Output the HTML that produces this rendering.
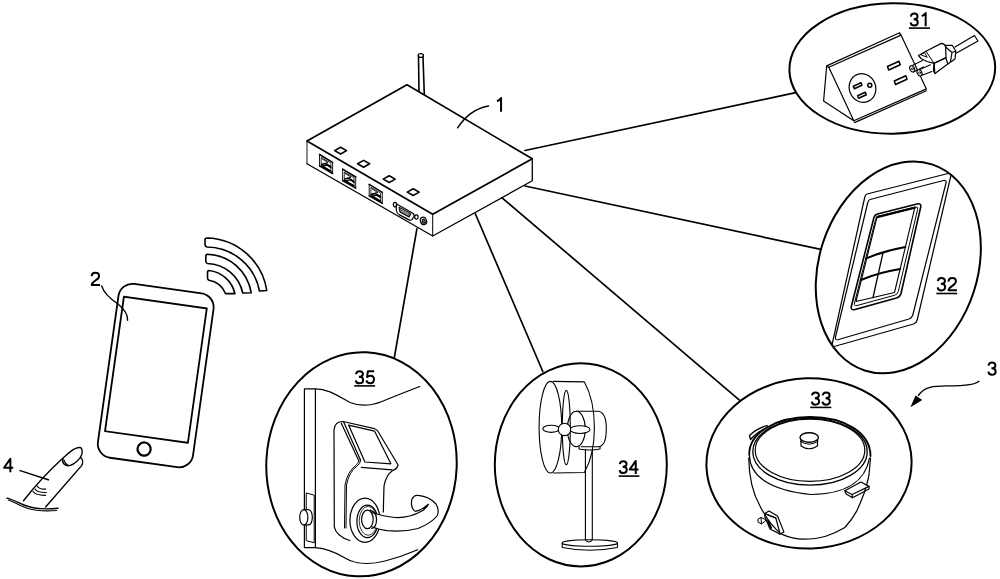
<!DOCTYPE html>
<html><head><meta charset="utf-8">
<style>
html,body{margin:0;padding:0;background:#fff;width:1000px;height:579px;overflow:hidden}
svg{display:block}
text{font-family:"Liberation Sans",sans-serif;fill:#000}
</style></head>
<body>
<svg width="1000" height="579" viewBox="0 0 1000 579">
<g fill="none" stroke="#000" stroke-width="1.7" stroke-linecap="round" stroke-linejoin="round">

<!-- connection lines -->
<g id="lines">
<path d="M525,150.5 L795.7,92.6"/>
<path d="M525,186 L820.8,249.4"/>
<path d="M501.8,197.6 L740.3,400.8"/>
<path d="M475.2,213.5 L542.8,371.5"/>
<path d="M416.9,228.8 L394.3,357.6"/>
</g>

<!-- ROUTER -->
<g id="router">
<!-- antenna -->
<path d="M418.5,57 L419,92" stroke-width="1.6"/>
<path d="M423,57 L424.3,94.5" stroke-width="1.6"/>
<ellipse cx="420.8" cy="55.5" rx="2.6" ry="1.9" stroke-width="1.4" fill="#fff"/>
<!-- body -->
<path d="M407,84.8 L307,141 L432.7,214.3 L532.3,158.8 Z" fill="#fff"/>
<path d="M307,141 L307,163.8" stroke-width="0.9"/>
<path d="M307,163.8 L432.7,236 L532.3,180.8 L532.3,158.8" fill="none" stroke-width="1.3"/>
<path d="M432.7,214.3 L432.7,236" stroke-width="1.0"/>
<!-- LEDs -->
<g stroke-width="1.6">
<path d="M340.6,147.2 L346.6,150.6 L340.6,154 L334.6,150.6 Z"/>
<path d="M363.6,160.4 L369.6,163.8 L363.6,167.2 L357.6,163.8 Z"/>
<path d="M389.2,175.7 L395.2,179.1 L389.2,182.5 L383.2,179.1 Z"/>
<path d="M413.2,188.7 L419.2,192.1 L413.2,195.5 L407.2,192.1 Z"/>
</g>
<!-- ethernet ports -->
<g transform="translate(0,0)">
<path d="M319.5,154.5 L319.5,165.9 M332.6,162.4 L332.6,173.5" stroke-width="0.9"/>
<path d="M319.5,154.5 L332.6,162.4 M319.5,165.9 L332.6,173.5" stroke-width="1.5"/>
<path d="M321.5,157.6 L330.9,163.1 L330.9,171.3 L321.5,165.8 Z" stroke-width="0.8"/>
<path d="M322,158.8 L328,162.6 L322,164" stroke-width="0.9"/>
<path d="M321.5,164.6 L326,163.6 L330.9,166.6 M322.5,166.2 L327.2,165.2 L330.9,167.8" stroke-width="1.3"/>
<path d="M321.6,165.8 L330.9,171.3" stroke-width="1.6"/>
</g>
<g transform="translate(23.1,14.6)">
<path d="M319.5,154.5 L319.5,165.9 M332.6,162.4 L332.6,173.5" stroke-width="0.9"/>
<path d="M319.5,154.5 L332.6,162.4 M319.5,165.9 L332.6,173.5" stroke-width="1.5"/>
<path d="M321.5,157.6 L330.9,163.1 L330.9,171.3 L321.5,165.8 Z" stroke-width="0.8"/>
<path d="M322,158.8 L328,162.6 L322,164" stroke-width="0.9"/>
<path d="M321.5,164.6 L326,163.6 L330.9,166.6 M322.5,166.2 L327.2,165.2 L330.9,167.8" stroke-width="1.3"/>
<path d="M321.6,165.8 L330.9,171.3" stroke-width="1.6"/>
</g>
<g transform="translate(49.7,29.9)">
<path d="M319.5,154.5 L319.5,165.9 M332.6,162.4 L332.6,173.5" stroke-width="0.9"/>
<path d="M319.5,154.5 L332.6,162.4 M319.5,165.9 L332.6,173.5" stroke-width="1.5"/>
<path d="M321.5,157.6 L330.9,163.1 L330.9,171.3 L321.5,165.8 Z" stroke-width="0.8"/>
<path d="M322,158.8 L328,162.6 L322,164" stroke-width="0.9"/>
<path d="M321.5,164.6 L326,163.6 L330.9,166.6 M322.5,166.2 L327.2,165.2 L330.9,167.8" stroke-width="1.3"/>
<path d="M321.6,165.8 L330.9,171.3" stroke-width="1.6"/>
</g>
<!-- serial port -->
<g stroke-width="1.2">
<path d="M397,204.2 L412.5,213 Q414.8,214.5 413.8,216.8 L412,219.6 Q410.8,220.8 408.5,219.6 L399,214.6 Q396.8,213.2 396.4,210.5 L396.2,206 Q396.3,204 397,204.2 Z" fill="#fff"/>
<path d="M399.3,207.3 L410.8,213.6 L409.3,217.2 L400.2,212.3 Z" fill="#555" stroke-width="1"/>
<path d="M401,209.2 L409,213.6 M401.5,211 L408.5,214.9" stroke="#fff" stroke-width="0.6" stroke-dasharray="1 1.2"/>
<ellipse cx="395" cy="204.6" rx="1.7" ry="2.2"/>
<ellipse cx="416.4" cy="217" rx="1.7" ry="2.2"/>
</g>
<ellipse cx="423.5" cy="220.9" rx="3" ry="3.8" transform="rotate(-20 423.5 220.9)" stroke-width="1.2"/>
<ellipse cx="423.7" cy="221.2" rx="1.5" ry="2.1" transform="rotate(-20 423.7 221.2)" stroke-width="1" fill="#666"/>
</g>
<!-- label 1 -->
<path d="M457.6,127.8 C464,118 474,108.5 488.5,105.9" stroke-width="1.5"/>

<!-- PHONE -->
<g id="phone">
<g transform="rotate(8)">
<rect x="158.5" y="262.5" width="96" height="175.5" rx="14" ry="14" stroke-width="1.8"/>
<rect x="164" y="276.6" width="83.7" height="135.8" stroke-width="1.8"/>
<circle cx="205.2" cy="424.6" r="6.6" stroke-width="2.2"/>
</g>
<path d="M101.7,285.9 C104,294 112,300 118,304 C124,309 128,314 127.6,320.2" stroke-width="1.4"/>
</g>

<!-- WIFI -->
<g id="wifi" stroke-width="1.6" stroke-linejoin="round">
<path d="M207,238 A62,62 0 0 1 266.8,290.5 L259.5,291 A54,54 0 0 0 207,247 Q205,246.5 205,244 L205,240 Q205,238 207,238 Z"/>
<path d="M207.5,254.2 A46,46 0 0 1 251.2,292.8 L242.7,293 A37,37 0 0 0 207.5,263.5 Q205.8,263 205.8,261 L205.8,256 Q205.8,254.2 207.5,254.2 Z"/>
<path d="M209,270.5 A30,30 0 0 1 234.9,293.6 L225.4,293.6 A20,20 0 0 0 209,280.2 Q207.5,279.5 207.5,277.5 L207.5,272.5 Q207.5,270.5 209,270.5 Z"/>
</g>

<!-- FINGER -->
<g id="finger" stroke-width="1.4">
<path d="M23.5,500.8 C35,486 50,470 63,458.1 C66,455.5 69,452.5 71.4,450.9 C74,449 77,447.3 79.9,447.5 C82.3,447.8 82.6,451 81.8,454.5 C81,457 79,459.5 77,461.2 C75,463 73,464.6 70.2,465.4 C68,466 65.5,465.6 64,464 C62.4,462.3 62.3,460 63.2,458.3"/>
<path d="M64,460 C64.7,462.6 66.2,464.6 68.6,465.4" stroke-width="1.1"/>
<path d="M80.6,457.4 C83,459.5 83.2,463 81.6,465.6 L45.6,507"/>
<path d="M37,486 Q39.5,489.6 45.6,489.1 M35,489 Q37.5,492.8 46.3,492.5 M33,491.5 Q35.5,495.5 45.6,495.3" stroke-width="1.2"/>
<path d="M6.9,498.1 C12,499 17,502 24,505 C33,508.5 45,509.8 58,508.2"/>
<path d="M8.3,500 C15,502 20,506 28,508.5 C36,511 47,511.2 56.7,510.5" stroke-width="1.1"/>
</g>

<!-- CIRCLES -->
<g id="circles" stroke-width="2">
<ellipse cx="892.3" cy="68.5" rx="102.9" ry="65.2" transform="rotate(-0.9 892.3 68.5)"/>
<ellipse cx="898.3" cy="267.4" rx="79.3" ry="108.4" transform="rotate(18.1 898.3 267.4)"/>
<ellipse cx="809" cy="463.4" rx="102.6" ry="85.1" transform="rotate(-2.1 809 463.4)"/>
<ellipse cx="580.8" cy="464.8" rx="86" ry="101.6"/>
<ellipse cx="361.5" cy="464.3" rx="95.2" ry="112.1" transform="rotate(2.6 361.5 464.3)"/>
</g>

<!-- 31 OUTLET -->
<g id="outlet" stroke-width="1.2">
<path d="M826.7,65.9 L899.6,32.8 L900.5,35.4 L828.8,67.3 Z"/>
<path d="M900.5,34 L926.4,88.9 L853.8,120.8"/>
<path d="M926.4,90.8 L854.5,122.6"/>
<path d="M826.7,65.9 L823.6,101 L853.8,120.8 L828.8,67.3"/>
<ellipse cx="862.5" cy="88" rx="13.2" ry="14.5" transform="rotate(-20 862.5 88)"/>
<path d="M853.3,86.3 L861,82.8 L862,85.2 L854.3,88.7 Z" stroke-width="1.5"/>
<path d="M857.6,95.8 L865.3,92.3 L866.3,94.7 L858.6,98.2 Z" stroke-width="1.5"/>
<circle cx="869.8" cy="85.3" r="2" stroke-width="1.5"/>
<path d="M887.5,66.5 L899,61.3 L900.2,64.8 L888.7,70 Z" stroke-width="1.5"/>
<path d="M894.3,81 L905.8,75.8 L907,79.3 L895.5,84.5 Z" stroke-width="1.5"/>
<!-- plug -->
<path d="M955,47 L974.4,35.5 M956.5,53 L978,41 M974.4,35.5 L978,41"/>
<path d="M944.2,45.3 L952.2,45.3 L955.8,51 L955,59 L947.8,64.1 L945.5,62 Z" fill="#fff"/>
<path d="M944.5,46 L952,52.5 L955.8,51 M952,52.5 L950.5,61.5"/>
<path d="M918.5,55.5 L926,51.2 L941.3,43.4 Q944,43.3 945.6,46.5 L946,57.5 L934,63.4 L927,61.5 L921,58.5 Z" fill="#fff"/>
<path d="M926,51.2 L934,63.4 M921,54.5 L924.5,52.5 L927,57 Z" stroke-width="1"/>
<path d="M934,63.4 L946,58 L947.8,64.1 L935,73.6 Q933.5,72 933.5,70 Z" fill="#fff"/>
<path d="M934.2,64 L934.8,73"/>
<path d="M912.3,65.6 L922.4,60.5 M913.7,72.1 L923.5,67" stroke-width="1.1"/>
<ellipse cx="912.2" cy="68.8" rx="2.3" ry="3.3" transform="rotate(-25 912.2 68.8)" fill="#fff" stroke-width="1.1"/>
<circle cx="912.3" cy="68.8" r="1" stroke-width="0.8"/>
<path d="M918.8,69.9 L930.4,64.8 M920.6,75.7 L931.9,71.4" stroke-width="1.1"/>
<ellipse cx="919.5" cy="72.8" rx="2.3" ry="3.3" transform="rotate(-25 919.5 72.8)" fill="#fff" stroke-width="1.1"/>
<circle cx="919.6" cy="72.8" r="1" stroke-width="0.8"/>
</g>

<!-- 32 SWITCH -->
<g id="switch" stroke-width="1.2">
<path d="M867,194 L948,173.5 Q951.5,173 950.8,176 L917.2,320 Q916.5,323 913.5,324 L836,346 Q831.5,347 832.3,343.5 L864.8,197 Q865.5,194.5 867,194 Z"/>
<path d="M870,199.5 L943.5,180.5 Q946.8,180 946,183 L912.8,315 Q912,318 909,319 L838.6,339.5 Q834.8,340.5 835.5,337 L867.8,202.5 Q868.5,200 870,199.5 Z"/>
<path d="M877.5,214 L917,204 Q921.5,203 920.7,207 L901,293.5 Q900,297 896.5,298 L855,309.5 Q850.5,310.5 851.3,306.5 L873.8,218 Q874.6,214.8 877.5,214 Z" stroke-width="1.6"/>
<path d="M878,216.2 L915,207 Q918.3,206.3 917.6,209.5 L898.3,291.5 Q897.5,294.5 894.5,295.3 L857,305.5 Q853.8,306.3 854.5,303 L875.6,219.3 Q876.2,216.7 878,216.2 Z" stroke-width="1"/>
<path d="M877,217.2 L914.8,207.7 L894.5,292.5 L856,301.5 Z" stroke-width="1.1"/>
<path d="M877,217.2 L914.8,207.7" stroke-width="2"/>
<path d="M866.3,258.3 Q884,251 905.3,247.1 M860.9,280 Q879,272.5 900.1,269.1" stroke-width="2"/>
<path d="M883.1,252.3 L873,297.5" stroke-width="1.3"/>
</g>

<!-- 33 RICE COOKER -->
<g id="cooker" stroke-width="1.2">
<path d="M748.7,458 C749,475 752,492 760,506 C766,518 773,528 781.7,534.1 C790,538 797,539.2 803.7,539.2 C812,539.2 820,538 825.7,536.3 C833,534 839,531 844.8,527.5 C851,521 854,516 856.5,511.4 C860,504 862,499 863.9,493.7 C866.5,486 868.5,478 869,474.7 L870.5,458"/>
<path d="M749.5,456 C750,475 768,490 811,494.5 C850,494 866,478 869.5,458" stroke-width="1.2"/>
<path d="M749.3,455 C748.5,433 776,417 810,417 C845,417 870.5,433 870.5,456" stroke-width="1.8"/>
<ellipse cx="810" cy="451.8" rx="57.2" ry="33.4" stroke-width="1.3"/>
<ellipse cx="810" cy="450.3" rx="54.8" ry="31.1" stroke-width="1.2"/>
<path d="M801,439.5 L801,446 Q809,451.5 817.5,446 L817.5,439.5" fill="#fff"/>
<path d="M800.5,441.5 Q809,447 818,441.5" stroke-width="1"/>
<ellipse cx="809.2" cy="437.5" rx="9.2" ry="4.7" fill="#fff" stroke-width="1.4"/>
<path d="M749.5,435.5 C754,431 760,427.5 767,425.5 L768,427 C762,429.5 756,433 750.5,439.5 Z" fill="#fff" stroke-width="1.3"/>
<path d="M844.8,490.8 L860.9,482 L869,486.4 L852.1,494.5 Z" fill="#fff"/>
<path d="M844.8,490.8 L846.2,494 L852.5,497.8 L869,489 L869,486.4 M852.1,494.5 L852.5,497.8"/>
<path d="M764.8,513.6 L769,511 L777.5,516 L783.9,531.9 L780.2,534.1 L775.8,518 Z" fill="#fff"/>
<path d="M764.8,513.6 L764.8,516.5 L770,529 L780.2,534.1 M775.8,518 L764.8,513.6"/>
<path d="M768,521 L771,528" stroke-width="2"/>
<path d="M758.2,519 L761,517.5 L765.5,519.5 L765.5,521 L761.5,523.8 L758.5,522.5 Z M761,517.5 L761.5,523.8" stroke-width="1"/>
</g>

<!-- 34 FAN -->
<g id="fan" stroke-width="1.1">
<path d="M585.4,449.4 L585.4,540 Q588.8,544 592.3,540 L592.3,449.4"/>
<ellipse cx="589.8" cy="543" rx="27.6" ry="3.2"/>
<path d="M562.2,543 L562.2,547.5 Q589.8,553 617.4,547.5 L617.4,543"/>
<path d="M579,446.7 L579,449 Q589.5,451 600,449 L600,446.7"/>
<path d="M576.3,411.3 L598.5,411.3 Q606.5,413 606.3,429 Q606.3,446 598.5,446.7 L581,446.7"/>
<ellipse cx="576.3" cy="429" rx="9" ry="17.7"/>
<path d="M553.6,381.4 L584.4,381.9 Q594.4,400 594.4,427.6 Q594.4,455 584.4,472.5 L553.6,473"/>
<ellipse cx="550.4" cy="427.2" rx="11.3" ry="45.8" fill="#fff"/>
<ellipse cx="566.3" cy="427.6" rx="4" ry="37.2"/>
<ellipse cx="551.2" cy="428.8" rx="8.4" ry="3.6" fill="#fff"/>
<ellipse cx="580" cy="429.6" rx="10" ry="3.9" fill="#fff"/>
<circle cx="564.5" cy="429.4" r="6.2" fill="#fff"/>
</g>

<!-- 35 LOCK -->
<g id="lock" stroke-width="1.2">
<path d="M304.4,388.8 L304.4,547.7 L315.4,547.7 L315.4,388.8 Z"/>
<path d="M315.4,388.8 C328,388.8 338,396 350,402.5 C360,406.5 372,405.5 382,401.5 C395,396 408,391 419.8,386.5"/>
<path d="M315.4,547.7 C325,548.5 335,552 345,558 C355,564 370,565 385,561 C397,558 408,554 417.7,549.8"/>
<path d="M306.6,493.1 L314.2,495.2 L314.2,542.8 L306.6,540.8 Z" stroke-width="1"/>
<path d="M303.8,509.7 L309,509.7 Q312.3,511 312.3,517.3 Q312.3,523.8 309,524.9 L303.8,524.9" fill="#fff"/>
<ellipse cx="303.8" cy="517.3" rx="4.1" ry="7.6" fill="#fff"/>
<path d="M334,430 Q334.5,421.5 343.1,421.5 L374.5,428.7 Q377,429.5 378.2,431.8 L398.1,465 Q397,469 392.7,470.5 Q386,475 384,486 L383.3,512 M334,430 L334.3,526.8 Q336,536 349.9,540.5" fill="#fff"/>
<path d="M341.3,423.3 L358.8,460.8 M343.7,422.1 L360.6,460.2"/>
<path d="M360.6,460.2 Q360.5,464 357,466 Q349,472 346.5,485 L346,528 M358.8,460.8 Q358.5,463.5 355.8,465.5 Q347.5,471.5 345,485 L344.5,528" stroke-width="1"/>
<path d="M348.6,425.1 L374.5,431.1 L390.9,463.8 L364.9,462 Z"/>
<path d="M361.3,467.4 L392.1,469.8"/>
<ellipse cx="365" cy="520.3" rx="15.1" ry="22.1" fill="#fff"/>
<ellipse cx="367.4" cy="521.4" rx="10.5" ry="16.3"/>
<ellipse cx="368.2" cy="520.8" rx="9" ry="14.5" stroke-width="0.8"/>
<path d="M370.1,512.1 C376,514 383,516.5 395,517.5 C403,518 412,516.5 421.4,511.3 C425,509 427.5,506.5 428.4,504.3 C425.5,507 420.5,510.5 415.2,511.3 C411.5,509.5 410.8,503 412,499 C413.5,496 416,495 418.3,495.4 C425,496 432,499.5 436,504 C439,509 438.5,514 436.9,516 C433,521 428,524.5 418,528.5 C408,531 397,531.5 387.2,530.7 C381,530 376,528.5 371.6,526.8" fill="#fff"/>
<ellipse cx="367.4" cy="519.4" rx="5.8" ry="9.3" fill="#fff"/>
<path d="M370.1,510.2 Q376.5,512 376.5,519.4 Q376.5,527.5 371.6,528.5"/>
</g>

</g>

<!-- labels -->
<!-- DIGITS -->
<g id="digits" fill="none" stroke="#000" stroke-width="2" stroke-linecap="butt" stroke-linejoin="round">
<path d="M501.06,111.70 L501.06,98.08 C500.22,99.33 498.83,100.44 497.02,101.27"/>
<path d="M91.61,276.17 C91.75,273.63 93.44,272.65 95.42,272.65 C97.67,272.65 99.08,274.06 99.08,275.89 C99.08,277.72 97.81,278.85 95.70,280.26 C93.44,281.81 91.89,283.08 91.75,284.91 L100.07,284.91"/>
<path d="M988.54,365.64 C988.82,363.58 990.19,362.62 991.97,362.62 C994.02,362.62 995.39,363.86 995.39,365.50 C995.39,367.28 994.02,368.24 991.42,368.24 M991.42,368.24 C994.30,368.24 995.60,369.61 995.60,371.39 C995.60,373.44 994.02,374.68 991.97,374.68 C989.91,374.68 988.54,373.58 988.41,371.66"/>
<path d="M10.37,472.30 L10.37,458.76 L4.03,467.72 L13.26,467.72"/>
<path d="M910.82,16.58 C911.09,14.56 912.44,13.61 914.20,13.61 C916.22,13.61 917.57,14.83 917.57,16.45 C917.57,18.20 916.22,19.14 913.66,19.14 M913.66,19.14 C916.49,19.14 917.77,20.50 917.77,22.25 C917.77,24.27 916.22,25.49 914.20,25.49 C912.17,25.49 910.82,24.41 910.69,22.52 M925.67,26.30 L925.67,13.07 C924.86,14.29 923.51,15.37 921.75,16.18"/>
<path d="M937.89,281.15 C938.17,279.03 939.58,278.05 941.42,278.05 C943.53,278.05 944.94,279.31 944.94,281.01 C944.94,282.84 943.53,283.83 940.85,283.83 M940.85,283.83 C943.81,283.83 945.15,285.24 945.15,287.07 C945.15,289.19 943.53,290.45 941.42,290.45 C939.30,290.45 937.89,289.33 937.75,287.35 M948.47,281.57 C948.61,279.03 950.30,278.05 952.27,278.05 C954.53,278.05 955.94,279.46 955.94,281.29 C955.94,283.12 954.67,284.25 952.56,285.66 C950.30,287.21 948.75,288.48 948.61,290.31 L956.93,290.31"/>
<path d="M811.97,395.49 C812.25,393.41 813.64,392.43 815.44,392.43 C817.53,392.43 818.92,393.69 818.92,395.35 C818.92,397.16 817.53,398.13 814.89,398.13 M814.89,398.13 C817.81,398.13 819.13,399.52 819.13,401.33 C819.13,403.42 817.53,404.67 815.44,404.67 C813.36,404.67 811.97,403.55 811.83,401.61 M822.67,395.49 C822.95,393.41 824.34,392.43 826.15,392.43 C828.23,392.43 829.62,393.69 829.62,395.35 C829.62,397.16 828.23,398.13 825.59,398.13 M825.59,398.13 C828.51,398.13 829.83,399.52 829.83,401.33 C829.83,403.42 828.23,404.67 826.15,404.67 C824.06,404.67 822.67,403.55 822.53,401.61"/>
<path d="M619.82,464.18 C620.09,462.15 621.44,461.21 623.20,461.21 C625.22,461.21 626.57,462.42 626.57,464.04 C626.57,465.80 625.22,466.75 622.66,466.75 M622.66,466.75 C625.49,466.75 626.77,468.09 626.77,469.85 C626.77,471.88 625.22,473.09 623.20,473.09 C621.17,473.09 619.82,472.01 619.69,470.12 M635.75,473.90 L635.75,460.94 L629.68,469.51 L638.52,469.51"/>
<path d="M355.97,374.19 C356.25,372.11 357.64,371.13 359.44,371.13 C361.53,371.13 362.92,372.38 362.92,374.05 C362.92,375.86 361.53,376.83 358.89,376.83 M358.89,376.83 C361.81,376.83 363.13,378.22 363.13,380.03 C363.13,382.12 361.53,383.37 359.44,383.37 C357.36,383.37 355.97,382.25 355.83,380.31 M374.18,371.27 L367.92,371.27 L367.09,376.97 C368.06,376.14 369.17,375.65 370.42,375.65 C372.65,375.65 373.97,377.25 373.97,379.34 C373.97,381.70 372.37,383.37 370.28,383.37 C368.34,383.37 366.81,382.39 366.53,380.45"/>
</g>
<!-- /DIGITS -->
<g fill="none" stroke="#000" stroke-width="1.6">
<path d="M908.9,28.1 L930,28.1"/>
<path d="M936.3,293.5 L957.2,293.5"/>
<path d="M810.2,407.4 L831.3,407.4"/>
<path d="M618.7,476.1 L639.4,476.1"/>
<path d="M354.2,385.9 L375.1,385.9"/>
<!-- arrow 3 -->
<path d="M979.3,380.9 C976,385 965,386 946.6,385.9 C935,386 924,386 918.1,395.9" stroke-width="1.3"/>
<!-- finger 4 leader -->
<path d="M19.4,470.4 L49,480" stroke-width="1.4"/>
</g>
<path d="M910.4,407.3 L915.5,395.4 L922.3,400.1 Z" fill="#000"/>

</svg>
</body></html>
